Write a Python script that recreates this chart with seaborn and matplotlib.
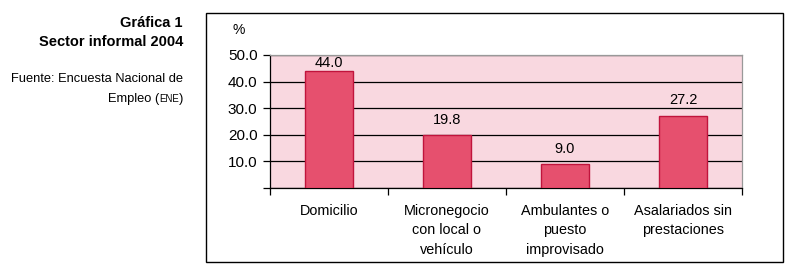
import seaborn as sns
import matplotlib.pyplot as plt
from matplotlib.patches import Rectangle
from matplotlib.ticker import MultipleLocator

categories = ["Domicilio", "Micronegocio\ncon local o\nvehículo",
              "Ambulantes o\npuesto\nimprovisado", "Asalariados sin\nprestaciones"]
values = [44.0, 19.8, 9.0, 27.2]
yticks = [0, 10, 20, 30, 40, 50]
ylabels = ["", "10.0", "20.0", "30.0", "40.0", "50.0"]

sns.set_style("white")
plt.rcParams['font.family'] = ['Liberation Sans', 'DejaVu Sans']
plt.rcParams['text.color'] = 'black'
plt.rcParams['xtick.color'] = 'black'
plt.rcParams['ytick.color'] = 'black'

fig = plt.figure(figsize=(7.9, 2.7), dpi=100)
ax = fig.add_axes([270/790, 1 - 188/270, 472/790, 133/270])
ax.set_facecolor("#F9D8E0")

sns.barplot(x=categories, y=values, ax=ax, color="#E6506E", width=0.4,
            edgecolor="#C0143C", linewidth=1, saturation=1, zorder=3)

ax.set_ylim(0, 50)
ax.set_xlim(-0.5, 3.5)
ax.set_yticks(yticks)
ax.set_yticklabels(ylabels, fontsize=11)
ax.yaxis.grid(True, color="black", linewidth=0.9, zorder=1)
ax.set_axisbelow(True)
ax.tick_params(axis="y", length=5, width=0.9, direction="out", left=True, pad=4)

ax.tick_params(axis="x", which="major", length=0, pad=11.5, labelsize=10.4)
for lab in ax.get_xticklabels():
    lab.set_linespacing(1.5)
    lab.set_verticalalignment("top")
ax.xaxis.set_minor_locator(MultipleLocator(1, offset=0.5))
ax.tick_params(axis="x", which="minor", length=5, width=0.9, direction="out", bottom=True)

for s in ["left", "bottom"]:
    ax.spines[s].set_color("black")
    ax.spines[s].set_linewidth(0.9)
for s in ["top", "right"]:
    ax.spines[s].set_color("#999999")
    ax.spines[s].set_linewidth(0.9)

for i, v in enumerate(values):
    # labels near the top are squeezed down so they stay inside the plot
    off = 1 if v > 40 else 6
    ax.annotate(f"{v:.1f}", (i, v), xytext=(0, off), textcoords="offset points",
                ha="center", va="bottom", fontsize=10.5)

fig.text(239/790, 1 - 30/270, "%", fontsize=10, ha="center", va="center")

# outer frame
fig.patches.append(Rectangle((206/790, 8/270), 577/790, 249/270, transform=fig.transFigure,
                             fill=False, edgecolor="black", linewidth=1.0))

# side notes
fig.text(183/790, 1 - 23/270, "Gráfica 1", fontsize=10.5, fontweight="bold", ha="right", va="center")
fig.text(183/790, 1 - 42/270, "Sector informal 2004", fontsize=10.5, fontweight="bold", ha="right", va="center")
fig.text(183/790, 1 - 79/270, "Fuente: Encuesta Nacional de", fontsize=9.3, ha="right", va="center")
t1 = fig.text(183/790, 1 - 99/270, ")", fontsize=9.3, ha="right", va="center")
t2 = fig.text(0, 0, "ENE", fontsize=7, ha="right", va="baseline")
t3 = fig.text(0, 0, "Empleo (", fontsize=9.3, ha="right", va="baseline")
fig.canvas.draw()
r = fig.canvas.get_renderer()
bb = t1.get_window_extent(r)
inv = fig.transFigure.inverted()
# baseline of ")" approx from its bbox bottom plus descent
base_y = bb.y0 + 0.21 * bb.height
x0, y0 = inv.transform((bb.x0, base_y))
t2.set_position((x0, y0))
fig.canvas.draw()
bb2 = t2.get_window_extent(r)
x1, _ = inv.transform((bb2.x0, base_y))
t3.set_position((x1, y0))

fig.savefig("out.png", dpi=100)
